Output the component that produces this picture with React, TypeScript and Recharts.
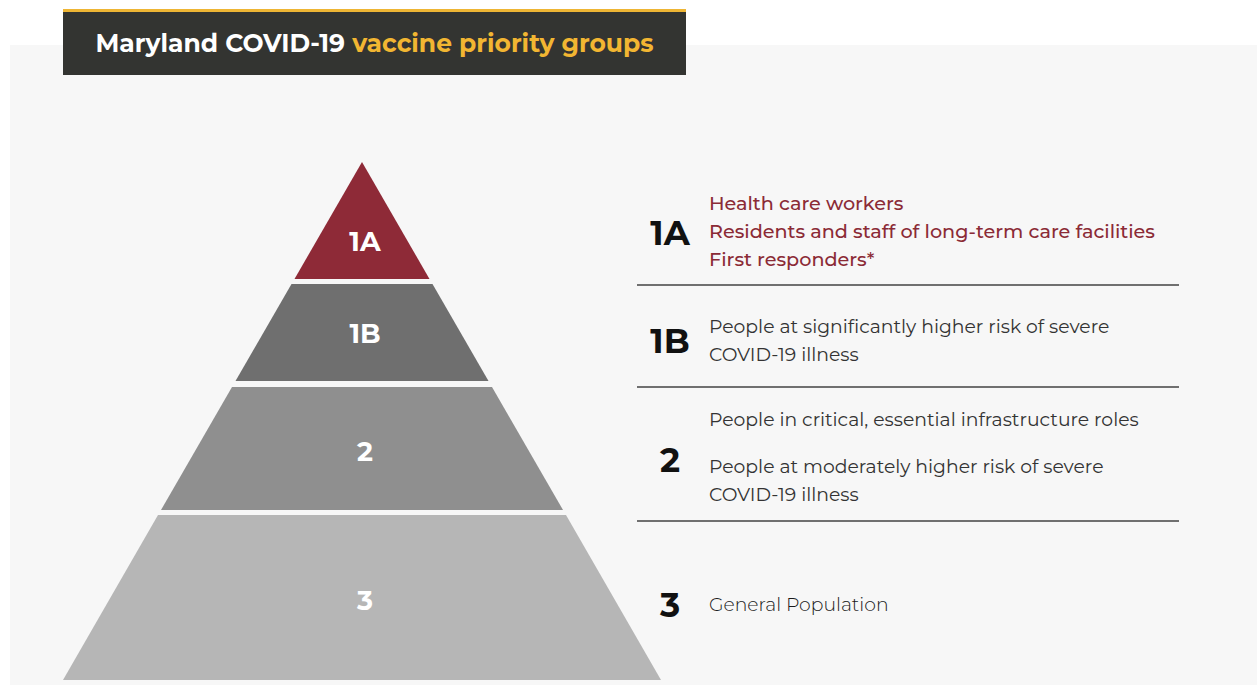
import React from 'react';
import { ComposedChart, Area, XAxis, YAxis, ReferenceDot } from 'recharts';

// pyramid tiers, depth measured down from the apex
const tierNames = ['1A', '1B', '2', '3'];
const tierTop = [0, 122, 225, 353];
const tierBottom = [117, 219, 348, 518];
const halfWidthTop = [0, 70.5, 130, 204];
const halfWidthBottom = [67.5, 126.5, 201, 299];
const tierLabelDepth = [79, 171, 289, 438];

// right-hand descriptions, one list of paragraphs per tier
const tierParagraphs = [
  [['Health care workers', 'Residents and staff of long-term care facilities', 'First responders*']],
  [['People at significantly higher risk of severe', 'COVID-19 illness']],
  [['People in critical, essential infrastructure roles'], ['People at moderately higher risk of severe', 'COVID-19 illness']],
  [['General Population']],
];

const FONT = '"Montserrat", "Open Sans", sans-serif';
const tierColors = ['#8e2a37', '#6f6f6f', '#8f8f8f', '#b6b6b6'];
const textWeights = [500, 400, 400, 300];
const textColors = ['#8b2b36', '#333333', '#333333', '#1a1a1a'];
const textSizes = [19.2, 18.8, 18.8, 18.8];

// layout of the right column (page pixels)
const numberCenterY = [233, 341, 460, 605];
const firstLineY = [203, 327, 420, 605];
const dividerY = [285, 387, 521];
const LINE_STEP = 28;
const PARA_GAP = 19;

const pyramidRows = tierNames.flatMap((name, i) => [
  { depth: tierTop[i], [name]: [-halfWidthTop[i], halfWidthTop[i]] },
  { depth: tierBottom[i], [name]: [-halfWidthBottom[i], halfWidthBottom[i]] },
]);

function TierText({ index }: { index: number }) {
  const lines: React.ReactNode[] = [];
  let y = firstLineY[index];
  tierParagraphs[index].forEach((para, p) => {
    if (p > 0) y += PARA_GAP;
    para.forEach((line, k) => {
      lines.push(
        <div
          key={`${p}-${k}`}
          style={{
            position: 'absolute',
            left: 709,
            top: y - LINE_STEP / 2,
            lineHeight: `${LINE_STEP}px`,
            fontSize: textSizes[index],
            whiteSpace: 'nowrap',
            color: textColors[index],
            fontWeight: textWeights[index],
          }}
        >
          {line}
        </div>
      );
      y += LINE_STEP;
    });
  });
  return <>{lines}</>;
}

export default function App() {
  return (
    <div
      style={{
        position: 'absolute',
        left: 0,
        top: 0,
        width: 1257,
        height: 685,
        background: '#ffffff',
        fontFamily: FONT,
        overflow: 'hidden',
      }}
    >
      <div style={{ position: 'absolute', left: 10, top: 45, right: 0, bottom: 0, background: '#f7f7f7' }} />

      <div
        style={{
          position: 'absolute',
          left: 63,
          top: 9,
          width: 623,
          height: 63,
          background: '#333431',
          borderTop: '3px solid #eeb534',
          color: '#ffffff',
          fontSize: 25,
          fontWeight: 700,
          lineHeight: '63px',
          textAlign: 'center',
          whiteSpace: 'nowrap',
        }}
      >
        Maryland COVID-19 <span style={{ color: '#f2b632' }}>vaccine priority groups</span>
      </div>

      <div style={{ position: 'absolute', left: 63, top: 162 }}>
        <ComposedChart
          width={598}
          height={518}
          layout="vertical"
          data={pyramidRows}
          margin={{ top: 0, right: 0, bottom: 0, left: 0 }}
        >
          <XAxis type="number" domain={[-299, 299]} hide />
          <YAxis type="number" dataKey="depth" domain={[0, 518]} hide />
          {tierNames.map((name, i) => (
            <Area
              key={name}
              dataKey={name}
              type="linear"
              fill={tierColors[i]}
              fillOpacity={1}
              stroke="none"
              isAnimationActive={false}
            />
          ))}
          {tierNames.map((name, i) => (
            <ReferenceDot
              key={`lbl-${name}`}
              x={3}
              y={tierLabelDepth[i]}
              r={1}
              fill="none"
              stroke="none"
              label={{
                value: name,
                position: 'center',
                fill: '#ffffff',
                fontSize: 27,
                fontWeight: 700,
                fontFamily: FONT,
              }}
            />
          ))}
        </ComposedChart>
      </div>

      {dividerY.map((y) => (
        <div key={y} style={{ position: 'absolute', left: 637, top: y - 1, width: 542, height: 2, background: '#707070' }} />
      ))}

      {tierNames.map((name, i) => (
        <div
          key={`num-${name}`}
          style={{
            position: 'absolute',
            left: 630,
            width: 80,
            top: numberCenterY[i] - 20,
            lineHeight: '40px',
            textAlign: 'center',
            fontSize: 34,
            fontWeight: 700,
            color: '#111111',
          }}
        >
          {name}
        </div>
      ))}

      {tierNames.map((name, i) => (
        <TierText key={`txt-${name}`} index={i} />
      ))}
    </div>
  );
}
